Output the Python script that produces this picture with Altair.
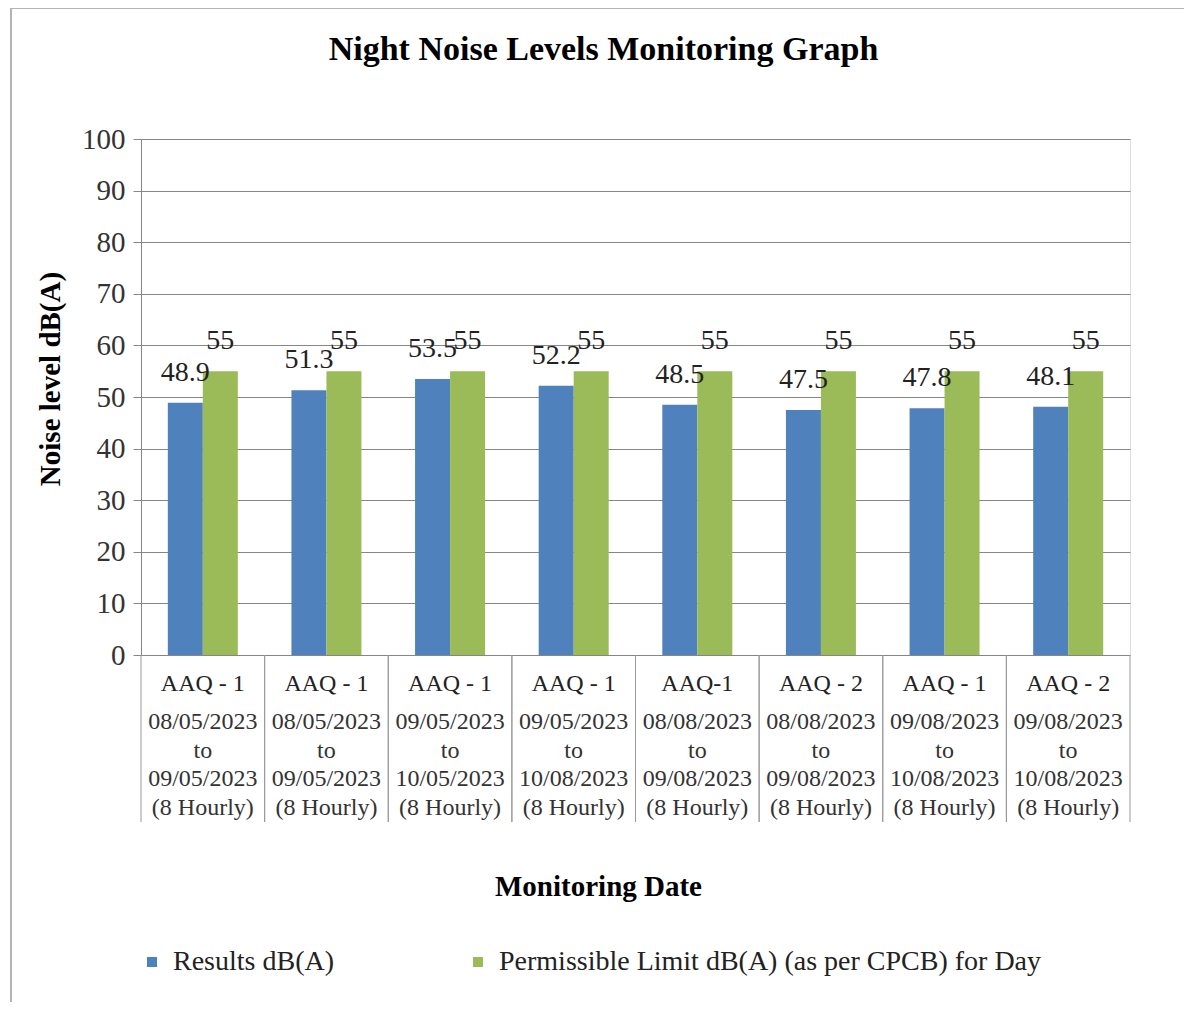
import altair as alt
import pandas as pd

sites = ["AAQ - 1", "AAQ - 1", "AAQ - 1", "AAQ - 1", "AAQ-1", "AAQ - 2", "AAQ - 1", "AAQ - 2"]
date_from = ["08/05/2023", "08/05/2023", "09/05/2023", "09/05/2023",
             "08/08/2023", "08/08/2023", "09/08/2023", "09/08/2023"]
date_to = ["09/05/2023", "09/05/2023", "10/05/2023", "10/08/2023",
           "09/08/2023", "09/08/2023", "10/08/2023", "10/08/2023"]
period = "(8 Hourly)"
results = [48.9, 51.3, 53.5, 52.2, 48.5, 47.5, 47.8, 48.1]
limits = [55, 55, 55, 55, 55, 55, 55, 55]
series_names = ["Results dB(A)", "Permissible Limit dB(A) (as per CPCB) for Day"]
y_ticks = list(range(0, 101, 10))

keys = [f"{i + 1}|{s}" for i, s in enumerate(sites)]
order = keys

rows = []
for k, r, l in zip(keys, results, limits):
    rows.append({"cat": k, "series": series_names[0], "value": r})
    rows.append({"cat": k, "series": series_names[1], "value": l})
df = pd.DataFrame(rows)

cat_df = pd.DataFrame({
    "cat": keys,
    "dates": [f"{a}\nto\n{b}\n{period}" for a, b in zip(date_from, date_to)],
})

FONT = "Liberation Serif"
GRID = "#868686"

x_enc = alt.X("cat:N", sort=order,
              scale=alt.Scale(paddingInner=0, paddingOuter=0),
              axis=alt.Axis(title="Monitoring Date", labelExpr="split(datum.label, '|')[1]",
                            labelAngle=0, labelFontSize=24, labelFont=FONT, labelColor="#222",
                            labelBaseline="middle", labelPadding=28, ticks=False, tickSize=0,
                            domain=False, grid=False,
                            titleFont=FONT, titleFontSize=29, titleFontWeight="bold",
                            titleColor="black", titleX=457, titleY=231,
                            titleAlign="center", titleBaseline="middle"))
y_enc = alt.Y("value:Q",
              scale=alt.Scale(domain=[0, 100], nice=False),
              axis=alt.Axis(title="Noise level dB(A)", values=y_ticks, grid=True, gridColor=GRID,
                            gridOpacity=1, domainColor=GRID, tickColor=GRID, tickSize=8,
                            labelFont=FONT, labelFontSize=29, labelColor="#333", labelPadding=8,
                            titleFont=FONT, titleFontSize=29, titleFontWeight="bold",
                            titleColor="black", titleX=-91, titleY=239.5,
                            titleBaseline="middle", titleAngle=270))
xoff = alt.XOffset("series:N", sort=series_names,
                   scale=alt.Scale(paddingOuter=0.766, paddingInner=0))
color = alt.Color("series:N", sort=series_names,
                  scale=alt.Scale(domain=series_names, range=["#4F81BD", "#9BBB59"]),
                  legend=alt.Legend(title=None, orient="none", direction="horizontal",
                                    legendX=-3, legendY=809, symbolType="square", symbolSize=100,
                                    symbolStrokeWidth=0, labelFont=FONT, labelFontSize=28,
                                    labelColor="#222", labelOffset=7, columnPadding=130,
                                    labelLimit=800))

bars = alt.Chart(df).mark_bar().encode(x=x_enc, xOffset=xoff, y=y_enc, color=color)

labels = alt.Chart(df).mark_text(font=FONT, fontSize=28, color="#222", baseline="middle",
                                 dy=-30).encode(
    x=alt.X("cat:N", sort=order), xOffset=alt.XOffset("series:N", sort=series_names),
    y="value:Q", text=alt.Text("value:Q", format="~f"))

dates = alt.Chart(cat_df).mark_text(font=FONT, fontSize=24, color="#333", baseline="top",
                                    lineBreak="\n", lineHeight=28.5).encode(
    x=alt.X("cat:N", sort=order), y=alt.value(571), text="dates:N")

sep_l = alt.Chart(cat_df).mark_rule(color="#999", strokeWidth=1).encode(
    x=alt.X("cat:N", sort=order, bandPosition=0), y=alt.value(516), y2=alt.value(683))
sep_r = alt.Chart(cat_df).mark_rule(color="#999", strokeWidth=1).encode(
    x=alt.X("cat:N", sort=order, bandPosition=1), y=alt.value(516), y2=alt.value(683))

frame_left = alt.Chart(cat_df).mark_rule(color="#b3b3b3", strokeWidth=2).encode(
    x=alt.value(-130), y=alt.value(-131), y2=alt.value(871))
frame_top = alt.Chart(cat_df).mark_rule(color="#b3b3b3", strokeWidth=2).encode(
    x=alt.value(-130), x2=alt.value(1060), y=alt.value(-131))

chart = alt.layer(bars, labels, dates, sep_l, sep_r, frame_left, frame_top).properties(
    width=989, height=516,
    title=alt.TitleParams("Night Noise Levels Monitoring Graph", font=FONT, fontSize=34,
                          fontWeight="bold", color="black", anchor="middle", dx=-32,
                          baseline="alphabetic", offset=-87),
    autosize=alt.AutoSizeParams(type="none"),
    padding={"left": 133, "top": 131, "right": 54, "bottom": 347},
).configure_view(stroke=None).configure(background="white")

chart.save("out.html", embed_options={"renderer": "svg", "actions": False})
